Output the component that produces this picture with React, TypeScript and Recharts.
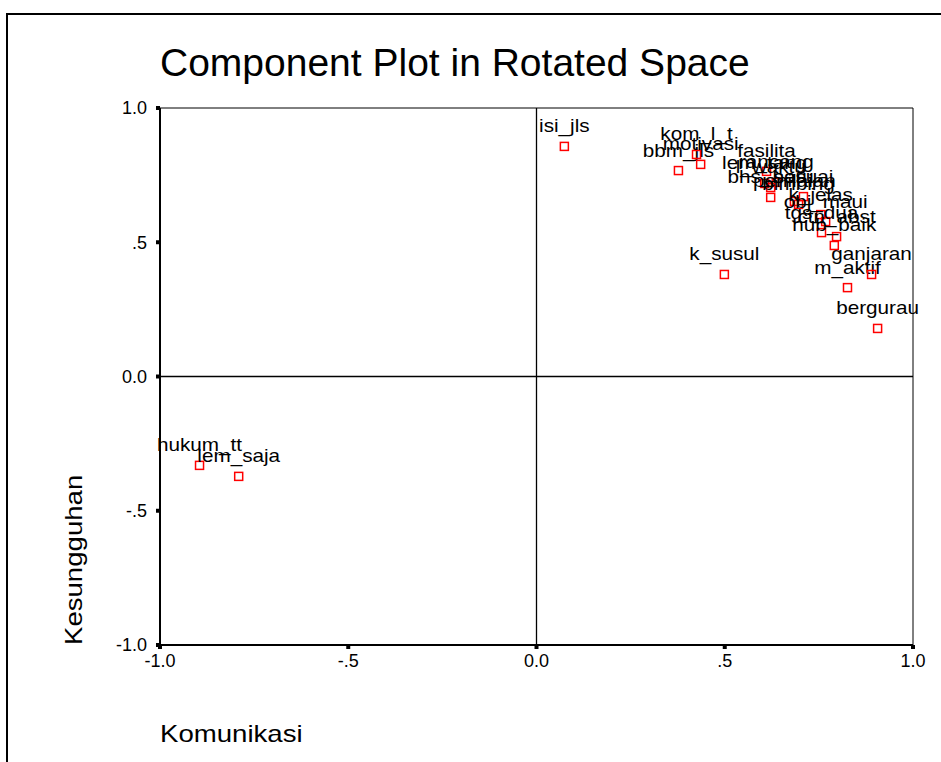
import { ScatterChart, Scatter, XAxis, YAxis, ReferenceLine } from 'recharts';

// component loadings
const names = [
  'isi_jls', 'bbm_jls', 'kom_l_t', 'motivasi', 'k_susul', 'm_aktif', 'ganjaran', 'bergurau',
  'hukum_tt', 'lem_saja',
  'fasilita', 'lem_tang', 'rancang', 'l_waktu', 'bhs_baru', 'penilaian', 'sesuai', 'bimbing',
  'k_jelas', 'obj_maui', 'tgs_dua', 'ctn_abst', 'hub_baik',
];
const komunikasi = [
  0.074, 0.377, 0.425, 0.436, 0.499, 0.826, 0.89, 0.906,
  -0.895, -0.791,
  0.611, 0.606, 0.637, 0.622, 0.622, 0.685, 0.709, 0.696,
  0.755, 0.768, 0.757, 0.797, 0.791,
];
const kesungguhan = [
  0.857, 0.767, 0.827, 0.79, 0.38, 0.331, 0.38, 0.179,
  -0.331, -0.372,
  0.764, 0.719, 0.723, 0.704, 0.667, 0.652, 0.67, 0.641,
  0.603, 0.577, 0.536, 0.521, 0.488,
];
const ticks = [-1, -0.5, 0, 0.5, 1];
const tickText = ['-1.0', '-.5', '0.0', '.5', '1.0'];

const data = names.map((name, i) => ({ name, x: komunikasi[i], y: kesungguhan[i] }));

const FONT = '"Liberation Sans", Arial, sans-serif';

const fmt = (v: number) => tickText[ticks.indexOf(v)] ?? String(v);

function Marker(props: any) {
  const { cx, cy, payload } = props;
  return (
    <g>
      <text
        x={0}
        y={0}
        transform={`translate(${cx},${cy - 14}) scale(1.15,1)`}
        textAnchor="middle"
        fontFamily={FONT}
        fontSize={18}
        fill="#000"
      >
        {payload.name}
      </text>
      <rect x={cx - 4} y={cy - 4} width={8} height={8} fill="none" stroke="#ff0000" strokeWidth={1.5} />
    </g>
  );
}

export default function App() {
  return (
    <div style={{ position: 'absolute', left: 0, top: 0, width: 941, height: 762, background: '#fff', overflow: 'hidden' }}>
      <ScatterChart width={941} height={762} margin={{ top: 108, right: 28, bottom: 77, left: 110 }}>
        <XAxis
          type="number"
          dataKey="x"
          domain={[-1, 1]}
          ticks={ticks}
          tickFormatter={fmt}
          height={40}
          axisLine={{ stroke: '#000', strokeWidth: 2 }}
          tickLine={{ stroke: '#000', strokeWidth: 4 }}
          tickSize={4}
          tickMargin={5}
          tick={{ fill: '#000', fontSize: 18, fontFamily: FONT }}
        />
        <YAxis
          type="number"
          dataKey="y"
          domain={[-1, 1]}
          ticks={ticks}
          tickFormatter={fmt}
          width={50}
          axisLine={{ stroke: '#000', strokeWidth: 2 }}
          tickLine={{ stroke: '#000', strokeWidth: 4 }}
          tickSize={4}
          tickMargin={9}
          tick={{ fill: '#000', fontSize: 18, fontFamily: FONT }}
        />
        <ReferenceLine x={1} stroke="#000" strokeWidth={1} />
        <ReferenceLine y={1} stroke="#000" strokeWidth={1} />
        <ReferenceLine x={0} stroke="#000" strokeWidth={1.3} />
        <ReferenceLine y={0} stroke="#000" strokeWidth={1.3} />
        <Scatter data={data} shape={<Marker />} isAnimationActive={false} />
      </ScatterChart>
      <svg width={941} height={762} style={{ position: 'absolute', left: 0, top: 0, pointerEvents: 'none' }}>
        <path d="M7 762 L7 14 L941 14" fill="none" stroke="#000" strokeWidth={2} />
        <text x={160} y={76} fontFamily={FONT} fontSize={39} fill="#000">
          Component Plot in Rotated Space
        </text>
        <text x={0} y={0} transform="translate(160,742) scale(1.2,1)" fontFamily={FONT} fontSize={23} fill="#000">
          Komunikasi
        </text>
        <text transform="translate(82,645) rotate(-90) scale(1.2,1)" x={0} y={0} fontFamily={FONT} fontSize={23} fill="#000">
          Kesungguhan
        </text>
      </svg>
    </div>
  );
}
